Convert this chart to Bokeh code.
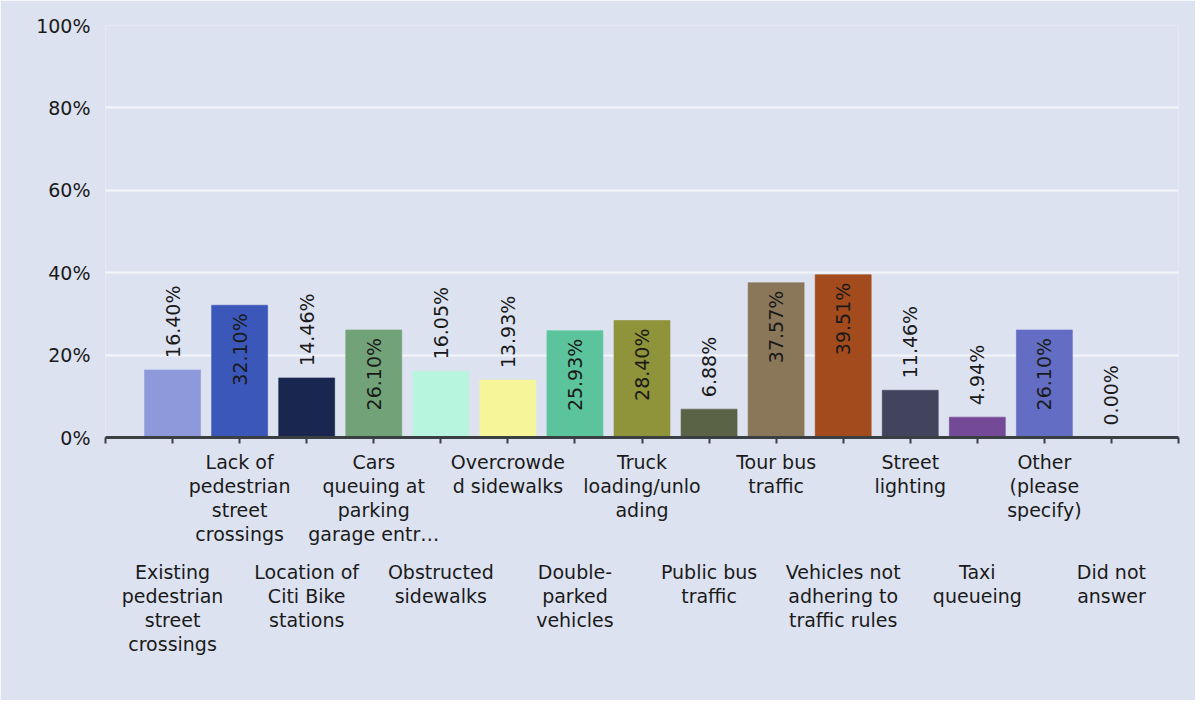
import math
from bokeh.plotting import figure
from bokeh.models import ColumnDataSource, LabelSet, Range1d, FixedTicker, LinearAxis
from bokeh.core.properties import value
from bokeh.embed import file_html
from bokeh.resources import INLINE

# ---- data ----
categories = [
    "Existing\npedestrian\nstreet\ncrossings",
    "Lack of\npedestrian\nstreet\ncrossings",
    "Location of\nCiti Bike\nstations",
    "Cars\nqueuing at\nparking\ngarage entr\u2026",
    "Obstructed\nsidewalks",
    "Overcrowde\nd sidewalks",
    "Double-\nparked\nvehicles",
    "Truck\nloading/unlo\nading",
    "Public bus\ntraffic",
    "Tour bus\ntraffic",
    "Vehicles not\nadhering to\ntraffic rules",
    "Street\nlighting",
    "Taxi\nqueueing",
    "Other\n(please\nspecify)",
    "Did not\nanswer",
]
percent_values = [16.40, 32.10, 14.46, 26.10, 16.05, 13.93, 25.93, 28.40,
                  6.88, 37.57, 39.51, 11.46, 4.94, 26.10, 0.00]
bar_colors = ["#8d99db", "#3b57b9", "#19264f", "#72a277", "#b8f5de",
              "#f7f59a", "#5bc49c", "#8f9339", "#5b6346", "#8a7659",
              "#a34b1c", "#42445e", "#744996", "#626dc3", "#9aa0c8"]
y_ticks = [0, 20, 40, 60, 80, 100]
y_tick_labels = ["0%", "20%", "40%", "60%", "80%", "100%"]

FONT = "DejaVu Sans"
TEXT_COLOR = "#1a1a1a"
BG = "#dde2f0"
AXIS_COLOR = "#3a3f44"

n = len(percent_values)
xs = list(range(1, n + 1))
value_text = [f"{v:.2f}%" for v in percent_values]

p = figure(width=1195, height=700,
           x_range=Range1d(0, n + 1), y_range=Range1d(0, 100),
           output_backend="svg", toolbar_location=None,
           min_border_left=105, min_border_right=17,
           min_border_top=25, min_border_bottom=263)
p.background_fill_color = BG
p.border_fill_color = BG
p.outline_line_color = None

bars = ColumnDataSource(dict(x=xs, top=percent_values, color=bar_colors))
p.vbar(x="x", top="top", width=0.835, bottom=0, fill_color="color",
       line_color="color", line_alpha=0.6, source=bars)

# x axis: upper row of category labels + boundary ticks
upper = [i for i in range(n) if i % 2 == 1]
lower = [i for i in range(n) if i % 2 == 0]

ax1 = p.xaxis[0]
ax1.ticker = FixedTicker(ticks=[xs[i] for i in upper],
                         minor_ticks=list(range(0, n + 2)))
ax1.major_label_overrides = {xs[i]: categories[i] for i in upper}
ax1.axis_line_color = AXIS_COLOR
ax1.axis_line_width = 3
ax1.major_tick_line_color = None
ax1.major_tick_out = 0
ax1.major_tick_in = 0
ax1.minor_tick_line_color = AXIS_COLOR
ax1.minor_tick_line_width = 2
ax1.minor_tick_out = 6
ax1.minor_tick_in = 0
ax1.major_label_standoff = 7
ax1.major_label_text_font = FONT
ax1.major_label_text_font_size = "19px"
ax1.major_label_text_color = TEXT_COLOR
ax1.major_label_text_line_height = 1.1

# lower row of category labels
ax2 = LinearAxis(ticker=FixedTicker(ticks=[xs[i] for i in lower]))
ax2.major_label_overrides = {xs[i]: categories[i] for i in lower}
ax2.axis_line_color = None
ax2.major_tick_line_color = None
ax2.minor_tick_line_color = None
ax2.major_tick_out = 0
ax2.major_tick_in = 0
ax2.minor_tick_out = 0
ax2.major_label_standoff = 12
ax2.major_label_text_font = FONT
ax2.major_label_text_font_size = "19px"
ax2.major_label_text_color = TEXT_COLOR
ax2.major_label_text_line_height = 1.1
p.add_layout(ax2, "below")

# y axis
p.yaxis.ticker = FixedTicker(ticks=y_ticks)
p.yaxis.major_label_overrides = {t: l for t, l in zip(y_ticks, y_tick_labels)}
p.yaxis.axis_line_color = None
p.yaxis.major_tick_line_color = None
p.yaxis.minor_tick_line_color = None
p.yaxis.major_tick_out = 0
p.yaxis.minor_tick_out = 0
p.yaxis.major_label_standoff = 15
p.yaxis.major_label_text_font = FONT
p.yaxis.major_label_text_font_size = "19px"
p.yaxis.major_label_text_color = TEXT_COLOR

p.xgrid.grid_line_color = None
p.ygrid.ticker = FixedTicker(ticks=y_ticks)
p.ygrid.grid_line_color = "#f3f5fa"
p.ygrid.grid_line_width = 2

# value labels (rotated)
inside = [v >= 20 for v in percent_values]
src_in = ColumnDataSource(dict(
    x=[x for x, f in zip(xs, inside) if f],
    y=[v for v, f in zip(percent_values, inside) if f],
    t=[t for t, f in zip(value_text, inside) if f]))
src_out = ColumnDataSource(dict(
    x=[x for x, f in zip(xs, inside) if not f],
    y=[v for v, f in zip(percent_values, inside) if not f],
    t=[t for t, f in zip(value_text, inside) if not f]))

common = dict(text="t", angle=math.pi / 2, text_baseline="middle",
              text_font=value(FONT), text_font_size="19px",
              text_color=TEXT_COLOR)
p.add_layout(LabelSet(x="x", y="y", source=src_in, text_align="right",
                      y_offset=-8, **common))
p.add_layout(LabelSet(x="x", y="y", source=src_out, text_align="left",
                      y_offset=12, **common))

open("out.html", "w").write(file_html(p, INLINE))
